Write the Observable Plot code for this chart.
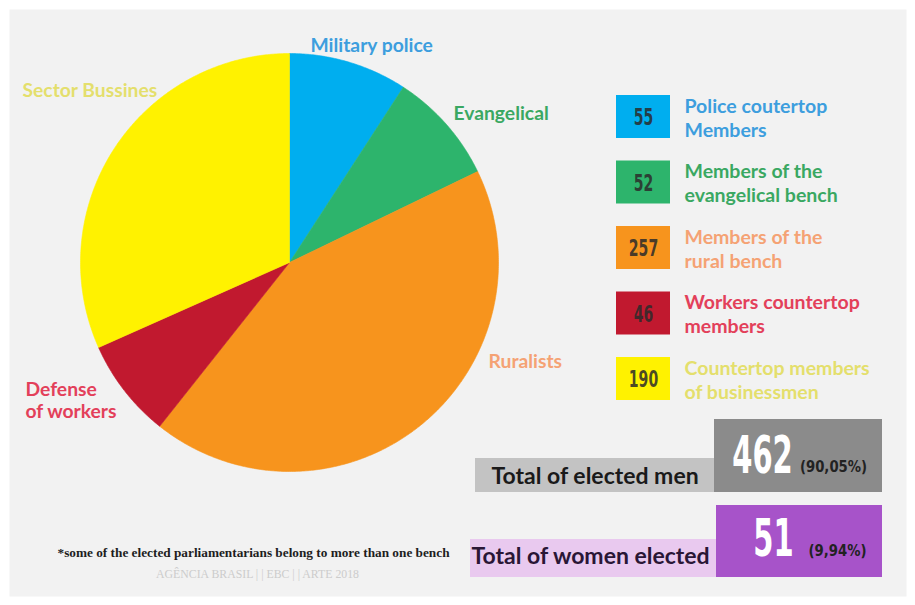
<!DOCTYPE html>
<html>
<head>
<meta charset="utf-8">
<script src="https://cdn.jsdelivr.net/npm/d3@7"></script>
<script src="https://cdn.jsdelivr.net/npm/@observablehq/plot@0.6"></script>
<style>
  html, body { margin: 0; padding: 0; background: #ffffff; }
  #chart { width: 915px; height: 605px; }
</style>
</head>
<body>
<div id="chart"></div>
<script>
// ---------- DATA ----------
const categories = ["Military police", "Evangelical", "Ruralists", "Defense of workers", "Sector Bussines"];
const pieLabels = ["Military police", "Evangelical", "Ruralists", "Defense\nof workers", "Sector Bussines"];
const legendLabels = [
  "Police coutertop\nMembers",
  "Members of the\nevangelical bench",
  "Members of the\nrural bench",
  "Workers countertop\nmembers",
  "Countertop members\nof businessmen"
];
const members = [55, 52, 257, 46, 190];
const totalsLabels = ["Total of elected men", "Total of women elected"];
const totalsValues = [462, 51];
const totalsShares = ["(90,05%)", "(9,94%)"];
const footnote = "*some of the elected parliamentarians belong to more than one bench";
const credit = "AGÊNCIA BRASIL | | EBC | | ARTE 2018";

// ---------- STYLE ----------
const sliceColors = ["#00aeef", "#2db46c", "#f7941d", "#c1192f", "#fff200"];
const labelColors = ["#3d9ede", "#3aa862", "#f5a274", "#e3405a", "#e4df6c"];
const totalsBarColors = ["#c3c3c3", "#e9c9ef"];
const totalsBoxColors = ["#8b8b8b", "#a753c9"];
const totalsTextColors = ["#1a1a1a", "#2a1636"];

// ---------- LAYOUT ----------
const W = 915, H = 605;
const L = {
  cx: 289, cy: 262, r: 209,
  pieLabelPos: [[310, 44], [453, 112], [488, 360], [25, 399], [22, 89]],
  legX: 616, legY: 95, legW: 54, legH: 43, legStep: 65.5, legTextX: 684,
  totals: [
    {barR: [475, 714, 458, 492], boxR: [714, 882, 419, 492], labelX: 491, labelY: 476, numX: 762, numY: 456, shareX: 833, shareY: 467},
    {barR: [470, 716, 539, 577], boxR: [716, 882, 505, 577], labelX: 471, labelY: 556, numX: 773, numY: 539, shareX: 837, shareY: 551}
  ],
  footX: 57, footY: 552, creditX: 257, creditY: 574
};

// ---------- BUILD ----------
const slices = categories.map((c, i) => ({key: c, value: members[i], color: sliceColors[i], label: pieLabels[i], labelColor: labelColors[i]}));
const arcs = d3.pie().sort(null).value(d => d.value)(slices);
const piePts = [];
for (const a of arcs) {
  piePts.push({key: a.data.key, color: a.data.color, x: L.cx, y: L.cy});
  const n = Math.max(2, Math.ceil((a.endAngle - a.startAngle) / (Math.PI / 360)));
  for (let k = 0; k <= n; k++) {
    const t = a.startAngle + (a.endAngle - a.startAngle) * k / n;
    piePts.push({key: a.data.key, color: a.data.color, x: L.cx + L.r * Math.sin(t), y: L.cy - L.r * Math.cos(t)});
  }
  piePts.push({key: a.data.key, color: a.data.color, x: L.cx, y: L.cy});
}

const legend = slices.map((s, i) => ({
  ...s, text: legendLabels[i], n: members[i],
  y1: L.legY + i * L.legStep, y2: L.legY + i * L.legStep + L.legH
}));

const totals = totalsLabels.map((t, i) => ({
  label: t, value: totalsValues[i], share: totalsShares[i],
  barColor: totalsBarColors[i], boxColor: totalsBoxColors[i], txt: totalsTextColors[i], ...L.totals[i]
}));

const chart = Plot.plot({
  width: W, height: H,
  margin: 0,
  x: {domain: [0, W], range: [0, W], axis: null},
  y: {domain: [0, H], range: [0, H], axis: null},
  color: {type: "identity"},
  style: {background: "#ffffff", overflow: "visible"},
  marks: [
    Plot.frame({fill: "#f2f2f2", stroke: null, insetLeft: 9, insetTop: 9, insetRight: 9, insetBottom: 9}),
    // pie
    Plot.line(piePts, {x: "x", y: "y", z: "key", fill: "color", stroke: "color", strokeWidth: 0.6, curve: "linear"}),
    // pie labels
    Plot.text(slices, {
      x: (d, i) => L.pieLabelPos[i][0], y: (d, i) => L.pieLabelPos[i][1],
      text: "label", fill: "labelColor", textAnchor: "start", lineAnchor: "middle",
      fontFamily: "Lato", fontWeight: 700, fontSize: 19.3, lineHeight: 1.15
    }),
    // legend boxes
    Plot.rect(legend, {x1: () => L.legX, x2: () => L.legX + L.legW, y1: "y1", y2: "y2", fill: "color"}),
    Plot.text(legend, {
      x: () => L.legX + L.legW / 2, y: d => (d.y1 + d.y2) / 2 + 1, text: d => String(d.n),
      fill: "#2b2b2b", fillOpacity: 0.85, textAnchor: "middle", lineAnchor: "middle",
      fontFamily: "DejaVu Sans Condensed", fontWeight: 700, fontSize: 23, ariaDescription: "sx0.68"
    }),
    Plot.text(legend, {
      x: () => L.legTextX, y: d => (d.y1 + d.y2) / 2, text: "text", fill: "labelColor",
      textAnchor: "start", lineAnchor: "middle", lineHeight: 1.23,
      fontFamily: "Lato", fontWeight: 700, fontSize: 19.5
    }),
    // totals
    Plot.rect(totals, {x1: d => d.barR[0], x2: d => d.barR[1], y1: d => d.barR[2], y2: d => d.barR[3], fill: "barColor"}),
    Plot.rect(totals, {x1: d => d.boxR[0], x2: d => d.boxR[1], y1: d => d.boxR[2], y2: d => d.boxR[3], fill: "boxColor"}),
    Plot.text(totals, {
      x: "labelX", y: "labelY", text: "label", fill: "txt", textAnchor: "start", lineAnchor: "middle",
      fontFamily: "Lato", fontWeight: 700, fontSize: 23
    }),
    Plot.text(totals, {
      x: "numX", y: "numY", text: d => String(d.value), fill: "#ffffff", textAnchor: "middle", lineAnchor: "middle",
      fontFamily: "DejaVu Sans Condensed", fontWeight: 700, fontSize: 52, ariaDescription: "sx0.62"
    }),
    Plot.text(totals, {
      x: "shareX", y: "shareY", text: "share", fill: "#222222", textAnchor: "middle", lineAnchor: "middle",
      fontFamily: "DejaVu Sans Condensed", fontWeight: 700, fontSize: 15, ariaDescription: "sx0.98"
    }),
    // footnote and credit
    Plot.text([footnote], {
      x: () => L.footX, y: () => L.footY, text: d => d, fill: "#1e1e1e", textAnchor: "start", lineAnchor: "middle",
      fontFamily: "Liberation Serif", fontWeight: 700, fontSize: 13.5, ariaDescription: "sx0.985"
    }),
    Plot.text([credit], {
      x: () => L.creditX, y: () => L.creditY, text: d => d, fill: "#cccccc", textAnchor: "middle", lineAnchor: "middle",
      fontFamily: "Liberation Serif", fontSize: 11.8
    })
  ]
});

// horizontal condensing of selected text groups
chart.querySelectorAll("[aria-description^='sx']").forEach(g => {
  const s = parseFloat(g.getAttribute("aria-description").slice(2));
  g.querySelectorAll("text").forEach(t => {
    const tr = t.getAttribute("transform");
    if (tr) t.setAttribute("transform", tr + ` scale(${s},1)`);
    else {
      const x = +t.getAttribute("x") || 0, y = +t.getAttribute("y") || 0;
      t.removeAttribute("x"); t.removeAttribute("y");
      t.setAttribute("transform", `translate(${x},${y}) scale(${s},1)`);
    }
  });
});

document.getElementById("chart").appendChild(chart);
</script>
</body>
</html>
